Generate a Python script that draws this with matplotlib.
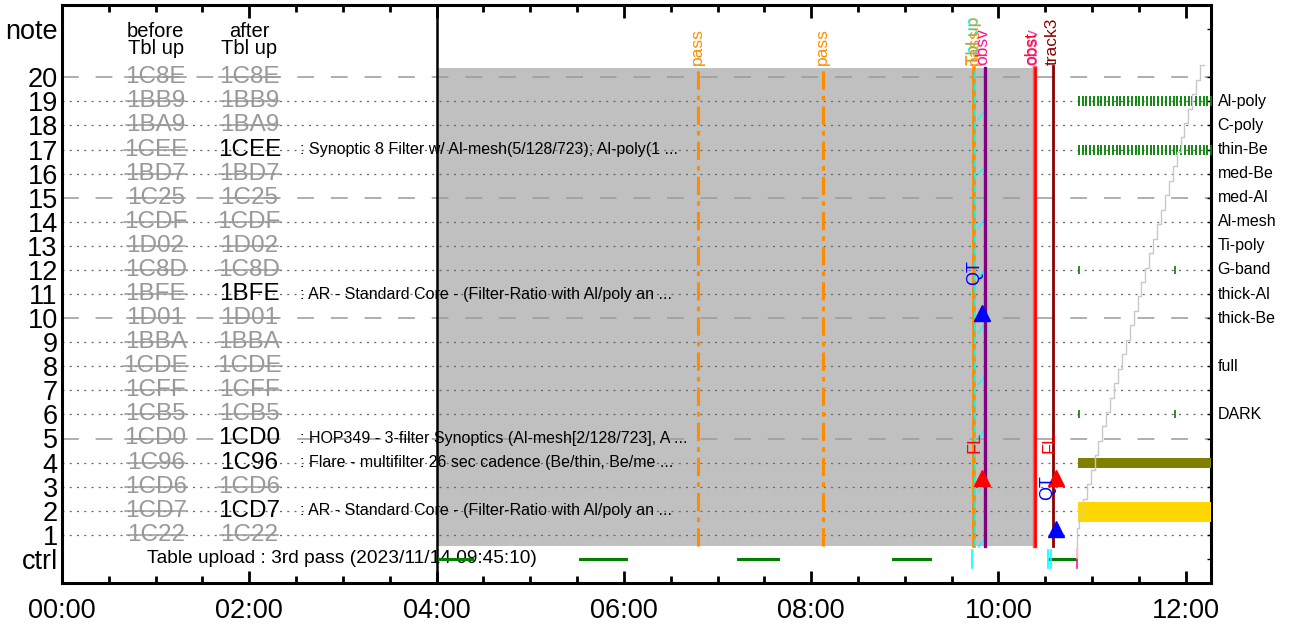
import matplotlib
matplotlib.use("Agg")
import matplotlib.pyplot as plt
from matplotlib.patches import Rectangle

plt.rcParams['font.family'] = ['Liberation Sans', 'DejaVu Sans']

# ---------------- data ----------------
rows = list(range(20, 0, -1))
before_codes = ['1C8E', '1BB9', '1BA9', '1CEE', '1BD7', '1C25', '1CDF', '1D02', '1C8D', '1BFE',
                '1D01', '1BBA', '1CDE', '1CFF', '1CB5', '1CD0', '1C96', '1CD6', '1CD7', '1C22']
after_codes = before_codes
after_active_rows = [17, 11, 5, 4, 2]
desc_rows = [17, 11, 5, 4, 2]
desc_texts = [': Synoptic 8 Filter w/ Al-mesh(5/128/723); Al-poly(1 ...',
              ': AR - Standard Core - (Filter-Ratio with Al/poly an ...',
              ': HOP349 - 3-filter Synoptics (Al-mesh[2/128/723], A ...',
              ': Flare - multifilter 26 sec cadence (Be/thin, Be/me ...',
              ': AR - Standard Core - (Filter-Ratio with Al/poly an ...']
filter_rows = [19, 18, 17, 16, 15, 14, 13, 12, 11, 10, 8, 6]
filter_names = ['Al-poly', 'C-poly', 'thin-Be', 'med-Be', 'med-Al', 'Al-mesh', 'Ti-poly',
                'G-band', 'thick-Al', 'thick-Be', 'full', 'DARK']

xtick_hours = [0, 2, 4, 6, 8, 10, 12]
xtick_labels = ['00:00', '02:00', '04:00', '06:00', '08:00', '10:00', '12:00']

shade_start, shade_end = 4.0, 10.388      # grey planning window (hours)
pass_times = [6.79, 8.124, 9.742]
tblup_time = 9.753
obsv_time = 9.854
obst_time = 10.388
track_time = 10.58

ctrl_green_start = [4.03, 5.528, 7.215, 8.879, 10.555]
ctrl_green_end = [4.376, 6.019, 7.641, 9.264, 10.832]
ctrl_cyan_times = [9.718, 10.534, 10.566]
ctrl_pink_time = 10.843

cyan_mark_rows = [18.42, 16.13, 13.93, 11.85, 9.56, 7.4, 5.2, 2.96, 0.67]

fl_text_times = [9.745, 10.545]
fl_tri_times = [9.829, 10.619]
qt_text_times = [9.745, 10.525]
qt_text_rows = [11.9, 2.95]
qt_tri_rows = [10.23, 1.25]

seq_times = [10.858, 10.9, 10.935, 10.98, 11.02, 11.06, 11.1, 11.14, 11.18, 11.22, 11.265,
             11.3, 11.345, 11.385, 11.425, 11.465, 11.505, 11.545, 11.585, 11.625, 11.665,
             11.705, 11.745, 11.79, 11.83, 11.87, 11.91, 11.95, 11.99, 12.03, 12.07, 12.11,
             12.15, 12.19, 12.23, 12.265]
seq_rows = [19, 17]
sparse_times = [10.858, 11.88]
sparse_rows = [12, 6]

bar_start, bar_end = 10.845, 12.27
olive_row, olive_h = 4.0, 0.42
gold_row, gold_h = 1.96, 0.83

stair_t = [10.843, 10.860, 10.902, 10.943, 10.985, 11.027, 11.068, 11.110, 11.152, 11.194,
           11.235, 11.277, 11.319, 11.360, 11.402, 11.444, 11.485, 11.527, 11.569, 11.611,
           11.652, 11.694, 11.736, 11.777, 11.819, 11.861, 11.902, 11.944, 11.986, 12.028,
           12.069, 12.111, 12.153, 12.194]
stair_y = [0.0, 1.3, 1.9, 2.5, 3.1, 3.7, 4.3, 4.9, 5.5, 6.1, 6.7, 7.3, 7.9, 8.5, 9.1, 9.7,
           10.3, 10.9, 11.5, 12.1, 12.7, 13.3, 13.9, 14.5, 15.1, 15.7, 16.3, 16.9, 17.5, 18.1,
           18.7, 19.3, 19.9, 20.5]

# ---------------- figure ----------------
fig = plt.figure(figsize=(12.94, 6.25), dpi=100)
ax = fig.add_axes([0.0479, 0.0672, 0.888, 0.9248])
ax.set_xlim(0, 12.27)
ax.set_ylim(-1, 23)

# grey shading
ax.add_patch(Rectangle((shade_start, 0.55), shade_end - shade_start, 20.37 - 0.55,
                       facecolor='#c0c0c0', edgecolor='none', zorder=0.5))

# row grid lines
for r in rows:
    if r % 5 == 0:
        ax.axhline(r, color='#999999', lw=1.1, dashes=(11, 11), zorder=1)
    else:
        ax.axhline(r, color='#666666', lw=0.9, dashes=(1.6, 4.2), zorder=1)

# code columns
gray_texts = []
for r, b, a in zip(rows, before_codes, after_codes):
    t1 = ax.text(1.0, r, b, ha='center', va='center', fontsize=17.5, color='#999999', zorder=3)
    gray_texts.append((t1, r))
    if r in after_active_rows:
        ax.text(2.0, r, a, ha='center', va='center', fontsize=17.5, color='black', zorder=3)
    else:
        t2 = ax.text(2.0, r, a, ha='center', va='center', fontsize=17.5, color='#999999',
                     zorder=3)
        gray_texts.append((t2, r))

ax.text(1.0, 21.55, 'before\nTbl up', ha='center', va='center', fontsize=14.5, linespacing=0.92)
ax.text(2.0, 21.55, 'after\nTbl up', ha='center', va='center', fontsize=14.5, linespacing=0.92)

for r, d in zip(desc_rows, desc_texts):
    ax.text(2.54, r, d, ha='left', va='center', fontsize=11.5, zorder=3)

for r, n in zip(filter_rows, filter_names):
    ax.text(12.34, r, n, ha='left', va='center', fontsize=11.5, clip_on=False)

# 04:00 line
ax.axvline(4.0, color='black', lw=1.8, zorder=4)

# pass lines
for i, t in enumerate(pass_times):
    if i < 2:
        ax.plot([t, t], [0.55, 20.37], color='#ff8c00', lw=2.2, dashes=(6, 2, 1.5, 2), zorder=4)
    else:
        ax.plot([t, t], [0.55, 20.37], color='#ff8c00', lw=2.6, zorder=4)
        ax.plot([t - 0.012, t - 0.012], [0.55, 20.37], color='#ff8c00', lw=2.0,
                dashes=(3, 3), zorder=4)
    ax.text(t, 20.5, 'pass', rotation=90, ha='center', va='bottom', fontsize=12.5,
            color='#ff8c00')

# table upload line
ax.plot([tblup_time, tblup_time], [0.55, 20.37], color='cyan', lw=1.3, dashes=(4, 3), zorder=5)
ax.text(tblup_time - 0.02, 20.5, 'Tbl up', rotation=90, ha='center', va='bottom', fontsize=12.5,
        color='cyan')
ax.text(tblup_time - 0.01, 20.5, 'Tbl up', rotation=90, ha='center', va='bottom', fontsize=12.5,
        color='#ff8c00', alpha=0.85)
for r in cyan_mark_rows:
    ax.plot([tblup_time + 0.03, tblup_time + 0.1], [r - 0.17, r + 0.17], color='cyan', lw=1,
            zorder=5)

# obsv line
ax.plot([obsv_time, obsv_time], [0.55, 20.37], color='#800080', lw=2.4, zorder=5)
ax.text(obsv_time - 0.02, 20.5, 'obsv', rotation=90, ha='center', va='bottom', fontsize=12.5,
        color='#ff1493')

# obst line
ax.plot([obst_time, obst_time], [0.55, 20.37], color='#ff6060', lw=3.2, zorder=5)
ax.plot([obst_time, obst_time], [0.55, 20.37], color='red', lw=1.8, zorder=5)
ax.text(obst_time - 0.03, 20.5, 'obst', rotation=90, ha='center', va='bottom', fontsize=12.5,
        color='red')
ax.text(obst_time - 0.02, 20.5, 'obsv', rotation=90, ha='center', va='bottom', fontsize=12.5,
        color='#ff1493', alpha=0.8)

# track3 line
ax.plot([track_time, track_time], [0.55, 20.45], color='#8b0000', lw=2.0, zorder=5)
ax.text(track_time - 0.01, 20.5, 'track3', rotation=90, ha='center', va='bottom',
        fontsize=12.5, color='#8b0000')

# FL / QT annotations
for tt, tr in zip(fl_text_times, fl_tri_times):
    ax.text(tt, 4.82, 'FL', rotation=90, ha='center', va='center', fontsize=13, color='red',
            zorder=6)
    ax.plot(tr, 3.37, marker='^', color='red', markersize=12, zorder=6, linestyle='none')
for tt, tr_row, trow, tr in zip(qt_text_times, qt_text_rows, qt_tri_rows, fl_tri_times):
    ax.text(tt, tr_row, 'QT', rotation=90, ha='center', va='center', fontsize=13, color='blue',
            zorder=6)
    ax.plot(tr, trow, marker='^', color='blue', markersize=12, zorder=6, linestyle='none')

# ctrl row
ax.text(0.907, 0, 'Table upload : 3rd pass (2023/11/14 09:45:10)', ha='left', va='center',
        fontsize=13.8, zorder=3)
for s, e in zip(ctrl_green_start, ctrl_green_end):
    ax.plot([s, e], [0, 0], color='green', lw=2.2, zorder=4)
for t in ctrl_cyan_times:
    ax.plot([t, t], [-0.38, 0.38], color='cyan', lw=1.2, zorder=5)
ax.plot([ctrl_pink_time, ctrl_pink_time], [-0.38, 0.05], color='#ff1493', lw=1.2, zorder=5)
ax.plot([ctrl_pink_time, ctrl_pink_time], [0.05, 0.4], color='#ffb6c1', lw=1.2, zorder=5)

# right-side sequences
for r in seq_rows:
    ax.plot(seq_times, [r] * len(seq_times), linestyle='none', marker='|', color='green',
            markersize=7, mew=1.3, zorder=4)
for r in sparse_rows:
    ax.plot(sparse_times, [r] * len(sparse_times), linestyle='none', marker='|', color='green',
            markersize=6, mew=1.2, zorder=4)
ax.add_patch(Rectangle((bar_start, olive_row - olive_h / 2), bar_end - bar_start, olive_h,
                       facecolor='#808000', edgecolor='none', zorder=3))
ax.add_patch(Rectangle((bar_start, gold_row - gold_h / 2), bar_end - bar_start, gold_h,
                       facecolor='#ffd700', edgecolor='none', zorder=3))
ax.plot(stair_t, stair_y, drawstyle='steps-pre', color='#c8c8c8', lw=1, zorder=4)

# axes / ticks
ax.set_xticks(xtick_hours)
ax.set_xticklabels(xtick_labels, fontsize=19.5)
ax.set_xticks([h + 0.5 * k for h in range(0, 13, 2) for k in range(1, 4) if h + 0.5 * k < 12.27],
              minor=True)
ax.tick_params(axis='x', which='major', direction='in', length=9, width=2, top=True, pad=11)
ax.tick_params(axis='x', which='minor', direction='in', length=5, width=2, top=True)
ax.set_yticks([0] + rows[::-1] + [22])
ax.set_yticklabels(['ctrl'] + [str(r) for r in rows[::-1]] + ['note'], fontsize=19.5)
ax.tick_params(axis='y', which='major', left=False, right=True, direction='in', length=3,
               width=1, pad=3)
for s in ax.spines.values():
    s.set_linewidth(2.2)

# strike-through for inactive codes
fig.canvas.draw()
inv = ax.transData.inverted()
for t, r in gray_texts:
    bb = t.get_window_extent()
    x0 = inv.transform((bb.x0, bb.y0))[0]
    x1 = inv.transform((bb.x1, bb.y0))[0]
    ax.plot([x0, x1], [r, r], color='#999999', lw=1.1, zorder=3.5)

fig.savefig('out.png', dpi=100)
